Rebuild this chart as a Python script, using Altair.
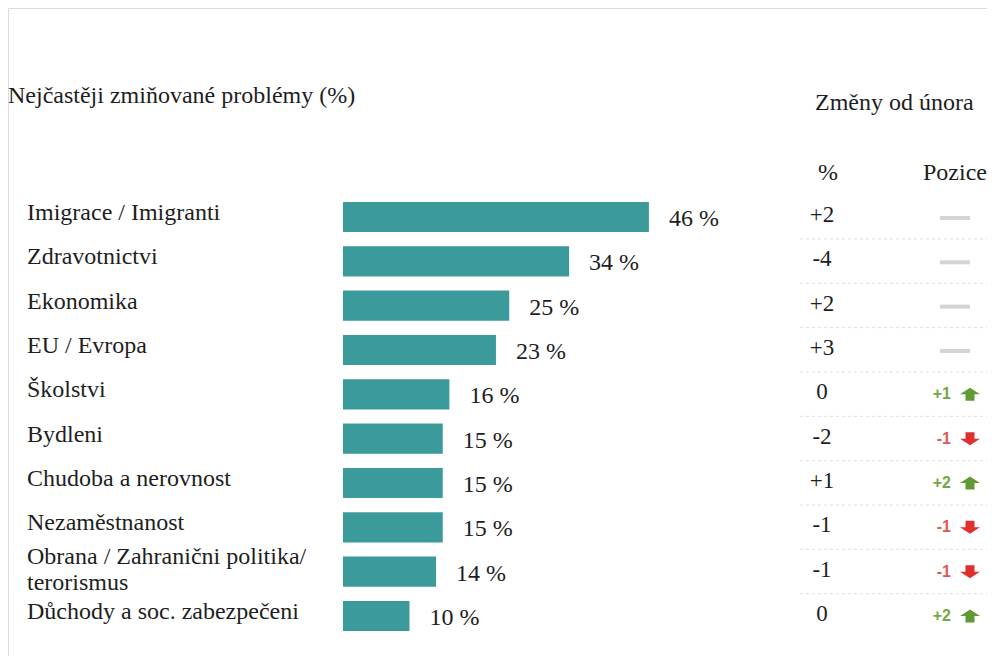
import altair as alt
import pandas as pd

categories = [
    "Imigrace / Imigranti",
    "Zdravotnictvi",
    "Ekonomika",
    "EU / Evropa",
    "Školstvi",
    "Bydleni",
    "Chudoba a nerovnost",
    "Nezaměstnanost",
    "Obrana / Zahranični politika/\nterorismus",
    "Důchody a soc. zabezpečeni",
]
shares = [46, 34, 25, 23, 16, 15, 15, 15, 14, 10]
pct_change = ["+2", "-4", "+2", "+3", "0", "-2", "+1", "-1", "-1", "0"]
rank_change = [0, 0, 0, 0, 1, -1, 2, -1, -1, 2]

title_left = "Nejčastěji zmiňované problémy (%)"
title_right = "Změny od února"
head_pct = "%"
head_pos = "Pozice"

df = pd.DataFrame({
    "cat": categories,
    "share": shares,
    "pct": pct_change,
    "rank": rank_change,
})
df["share_label"] = df["share"].astype(str) + " %"
df["dir"] = ["up" if r > 0 else ("down" if r < 0 else "same") for r in df["rank"]]
df["rank_label"] = [("+%d" % r) if r > 0 else (("-%d" % -r) if r < 0 else "") for r in df["rank"]]
df["multi"] = df["cat"].str.contains("\n")

SERIF = "Liberation Serif"
SANS = "Liberation Sans"
FS = 24
TXT = "#1e1e1e"

yscale = alt.Scale(domain=categories, range=[186.8, 630.2], paddingInner=0.32, paddingOuter=0.16)
Y = alt.Y("cat:N", scale=yscale, axis=None, sort=categories)
X = alt.X("share:Q", scale=alt.Scale(domain=[0, 100], range=[335, 1000]), axis=None)

base = alt.Chart(df)

bars = base.mark_bar(color="#3a9b9a").encode(x=X, y=Y)

value_labels = base.mark_text(
    align="left", baseline="middle", dx=20, dy=2, font=SERIF, fontSize=FS, color=TXT
).encode(x=X, y=Y, text="share_label:N")

cat_single = alt.Chart(df[~df["multi"]]).mark_text(
    align="left", baseline="middle", dy=-4, font=SERIF, fontSize=FS, color=TXT
).encode(x=alt.value(19), y=Y, text="cat:N")

cat_multi = alt.Chart(df[df["multi"]]).mark_text(
    align="left", baseline="middle", dy=-15, font=SERIF, fontSize=FS, color=TXT,
    lineBreak="\n", lineHeight=26
).encode(x=alt.value(19), y=Y, text="cat:N")

pct_labels = base.mark_text(
    align="center", baseline="middle", dy=-2, font=SERIF, fontSize=FS - 1, color=TXT
).encode(x=alt.value(814), y=Y, text="pct:N")

seps = alt.Chart(df.iloc[:-1]).mark_rule(
    color="#dedede", strokeDash=[3, 3], strokeWidth=1, yOffset=22
).encode(y=Y, x=alt.value(792), x2=alt.value(987))

same_marks = alt.Chart(df[df["dir"] == "same"]).mark_rule(
    color="#d4d4d4", strokeWidth=4, yOffset=1
).encode(y=Y, x=alt.value(932), x2=alt.value(962))

color_scale = alt.Scale(domain=["up", "down"], range=["#74a744", "#e05656"])
rank_labels = alt.Chart(df[df["dir"] != "same"]).mark_text(
    align="right", baseline="middle", font=SANS, fontSize=16, fontWeight="bold"
).encode(
    x=alt.value(943), y=Y, text="rank_label:N",
    color=alt.Color("dir:N", scale=color_scale, legend=None),
)

up_path = "M0,-0.65L1,0L0.45,0L0.45,0.65L-0.45,0.65L-0.45,0L-1,0Z"
down_path = "M0,0.65L1,0L0.45,0L0.45,-0.65L-0.45,-0.65L-0.45,0L-1,0Z"
arrows = alt.Chart(df[df["dir"] != "same"]).mark_point(filled=True, opacity=1, strokeWidth=0).encode(
    x=alt.value(962), y=Y,
    shape=alt.Shape("dir:N", scale=alt.Scale(domain=["up", "down"], range=[up_path, down_path]), legend=None),
    color=alt.Color("dir:N", scale=alt.Scale(domain=["up", "down"], range=["#5f9a34", "#e0302e"]), legend=None),
    size=alt.value(400),
)

def header(text, x, y, align="left"):
    return alt.Chart(pd.DataFrame({"t": [text]})).mark_text(
        align=align, baseline="alphabetic", font=SERIF, fontSize=FS, color=TXT
    ).encode(x=alt.value(x), y=alt.value(y), text="t:N")

h1 = header(title_left, 0, 95)
h2 = header(title_right, 807, 102)
h3 = header(head_pct, 810, 172)
h4 = header(head_pos, 915, 172)

chart = alt.layer(
    seps, bars, value_labels, cat_single, cat_multi, pct_labels, same_marks, rank_labels, arrows,
    h1, h2, h3, h4
).resolve_scale(color="independent").properties(
    width=979, height=648, padding=0, autosize=alt.AutoSizeParams(type="none")
).configure_view(stroke=None).configure(background="white")

chart.save("out.html", embed_options={"renderer": "svg", "actions": False})
